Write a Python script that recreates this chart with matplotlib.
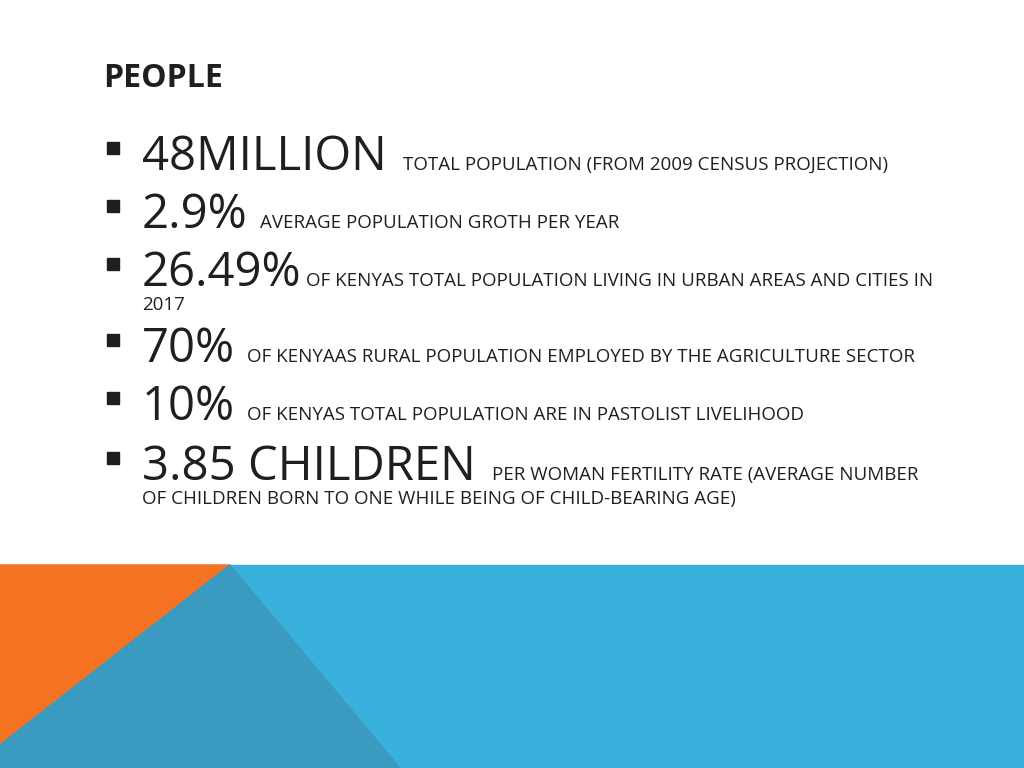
import matplotlib
matplotlib.use("Agg")
import matplotlib.pyplot as plt
from matplotlib.patches import Polygon, Rectangle

title = "PEOPLE"
big_values = ["48MILLION", "2.9%", "26.49%", "70%", "10%", "3.85 CHILDREN"]
descriptions = ["TOTAL POPULATION (FROM 2009 CENSUS PROJECTION)",
                "AVERAGE POPULATION GROTH PER YEAR",
                "OF KENYAS TOTAL POPULATION LIVING IN URBAN AREAS AND CITIES IN",
                "OF KENYAAS RURAL POPULATION EMPLOYED BY THE AGRICULTURE SECTOR",
                "OF KENYAS TOTAL POPULATION ARE IN PASTOLIST LIVELIHOOD",
                "PER WOMAN FERTILITY RATE (AVERAGE NUMBER"]
continuations = ["", "", "2017", "", "", "OF CHILDREN BORN TO ONE WHILE BEING OF CHILD-BEARING AGE)"]
baselines = [170, 228, 286, 362, 420, 480]
gaps = [16, 12, 4, 12, 12, 16]

fig = plt.figure(figsize=(10.24, 7.68), dpi=100)
ax = fig.add_axes([0, 0, 1, 1])
ax.set_xlim(0, 1024); ax.set_ylim(768, 0); ax.axis("off")

ax.add_patch(Rectangle((0, 565), 1024, 203, color="#3AB0DC", zorder=1))
ax.add_patch(Polygon([(0, 565), (230, 565), (0, 745)], color="#F47221", zorder=2))
ax.add_patch(Polygon([(230, 565), (400, 768), (0, 768), (0, 745)], color="#3B9AC0", zorder=2))

fam = "Open Sans"
col = "#1f1f1f"
ax.text(103, 87, title, fontsize=23, fontweight="bold", family=fam, color=col, va="baseline")

fig.canvas.draw()
r = fig.canvas.get_renderer()
inv = ax.transData.inverted()
for v, d, c, b, g in zip(big_values, descriptions, continuations, baselines, gaps):
    ax.add_patch(Rectangle((107, b - 28), 12, 12, color=col, zorder=3))
    t = ax.text(142, b, v, fontsize=34, family=fam, color=col, va="baseline")
    bb = t.get_window_extent(r)
    xe = inv.transform((bb.x1, bb.y0))[0]
    ax.text(xe + g, b, d, fontsize=13.5, family=fam, color=col, va="baseline")
    if c:
        ax.text(142, b + 24, c, fontsize=13.5, family=fam, color=col, va="baseline")

fig.savefig("out.png", dpi=100)
